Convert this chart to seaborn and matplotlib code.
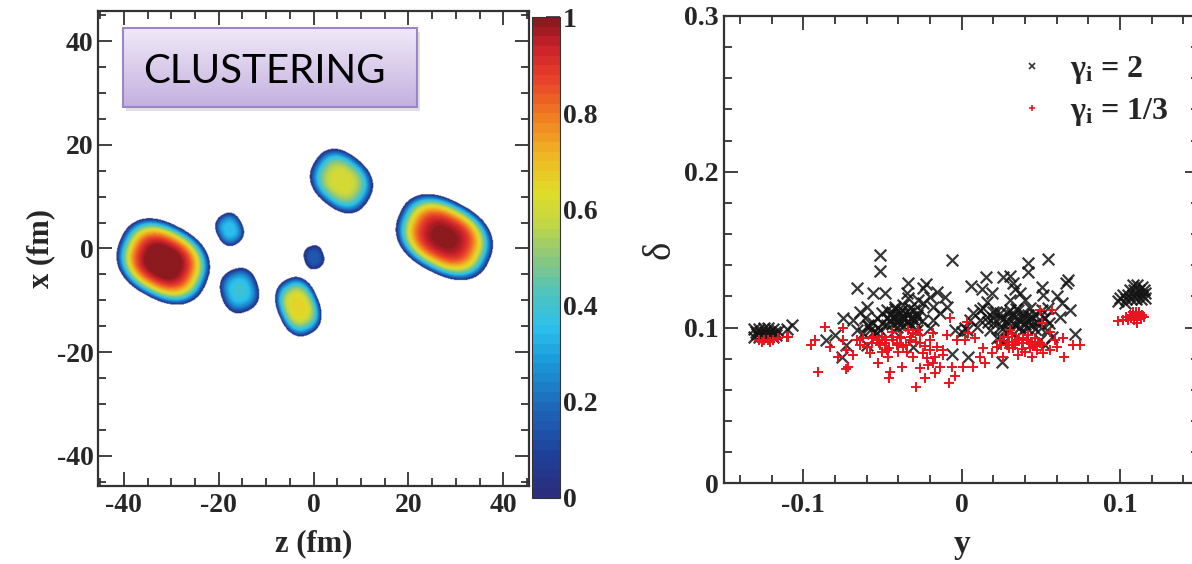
import numpy as np
import pandas as pd
import matplotlib
matplotlib.use("Agg")
import matplotlib.pyplot as plt
import seaborn as sns
from matplotlib.colors import LinearSegmentedColormap
from matplotlib.lines import Line2D
from matplotlib.patches import Rectangle
from matplotlib.ticker import MultipleLocator, FuncFormatter

# ---- left panel: density blobs (z, x in fm) ----
blob_z = [-31.8, 27.5, 5.8, -17.8, -15.7, 0.0, -3.3]
blob_x = [-2.6, 2.1, 12.9, 3.6, -8.2, -1.8, -11.3]
blob_a = [10.0, 10.5, 6.8, 3.2, 4.3, 2.3, 5.8]
blob_b = [7.4, 7.2, 5.4, 2.8, 4.0, 2.1, 4.4]
blob_tilt = [-25, -25, -35, -60, -70, -70, -65]
blob_peak = [1.05, 1.0, 0.62, 0.36, 0.39, 0.16, 0.66]

cbar_ticks = [0, 0.2, 0.4, 0.6, 0.8, 1]

# ---- right panel: gamma_i = 2 (black x) ----
g2_y = [-0.131, -0.128, -0.125, -0.122, -0.119, -0.117, -0.130, -0.127, -0.124, -0.121,
        -0.118, -0.131, -0.128, -0.125, -0.122, -0.119, -0.116, -0.129, -0.126, -0.123, -0.120,
        -0.1074, -0.1102,
        -0.0516, -0.0516, -0.0063, -0.0659, -0.0337, -0.0226, -0.0562, -0.0482, -0.0158, -0.0105,
        -0.0347, -0.0242, -0.0200, -0.0748, -0.0684, -0.0642, -0.0600, -0.0558, -0.0579, -0.0663,
        -0.0516, -0.0857, -0.0800, -0.0727, -0.0600, -0.0758, -0.0306, -0.0063, -0.0042, -0.0179,
        -0.0137, -0.0200, -0.0284, -0.0095, -0.0421, -0.0369, -0.0327, -0.0453, -0.0390, -0.0348,
        -0.0284, -0.0263, -0.0505, -0.0474, -0.0179, -0.0242, -0.0274, -0.0337,
        -0.0442, -0.0400, -0.0358, -0.0316, -0.0411, -0.0369, -0.0327, -0.0432, -0.0379, -0.0295,
        -0.0474, -0.0411, -0.0611, -0.0537, -0.0590, -0.0621, -0.0537,
        -0.045, -0.042, -0.039, -0.036, -0.033, -0.030, -0.040, -0.044, -0.037, -0.034,
        -0.031, -0.047, -0.050, -0.053, -0.028, -0.025, -0.038, -0.043, -0.056, -0.059,
        0.0421, 0.0421, 0.0547, 0.0154, 0.0263, 0.0305, 0.0057, 0.0126, 0.0189, 0.0326,
        0.0337, 0.0368, 0.0505, 0.0674, 0.0659, 0.0600, 0.0516, 0.0632, 0.0684, 0.0621,
        0.0716, 0.0042, 0.0252, 0.0158, 0.0305, 0.0400, 0.0116, 0.0200, 0.0284, 0.0358,
        0.0431, 0.0505, 0.0547, 0.0116, 0.0200, 0.0263, 0.0337, 0.0410, 0.0474, 0.0526,
        0.0031, 0.0095, 0.0179, 0.0242, 0.0305, 0.0368, 0.0442, 0.0537, 0.0495, 0.0568,
        0.0526, 0.0263, 0.0221, 0.0052, 0.0021, 0.0000, 0.0137, 0.0074, 0.0389, 0.0463,
        0.0326, 0.0242, 0.0168, 0.0305, 0.0242, 0.0379, 0.0442, 0.0284, 0.0410,
        0.020, 0.024, 0.028, 0.032, 0.036, 0.040, 0.044, 0.048, 0.052, 0.026,
        0.030, 0.034, 0.038, 0.042, 0.046, 0.050, 0.055, 0.016, 0.022, 0.034,
        0.100, 0.102, 0.105, 0.108, 0.111, 0.114, 0.116, 0.104, 0.107, 0.110,
        0.113, 0.116, 0.106, 0.109, 0.112, 0.115, 0.108, 0.111, 0.114, 0.099, 0.103]
g2_delta = [0.094, 0.094, 0.094, 0.094, 0.094, 0.095, 0.097, 0.097, 0.097, 0.097,
            0.097, 0.099, 0.099, 0.100, 0.100, 0.099, 0.098, 0.096, 0.096, 0.096, 0.096,
            0.1016, 0.0990,
            0.1466, 0.1365, 0.1434, 0.1256, 0.1284, 0.1280, 0.1220, 0.1224, 0.1231, 0.1198,
            0.1220, 0.1252, 0.1198, 0.1059, 0.1048, 0.1102, 0.1134, 0.1027, 0.0984, 0.0984,
            0.0984, 0.0920, 0.0952, 0.0888, 0.0888, 0.0813, 0.0877, 0.0830, 0.0984, 0.1048,
            0.1091, 0.0995, 0.0984, 0.1134, 0.1134, 0.1145, 0.1123, 0.1048, 0.1048, 0.1027,
            0.1070, 0.1113, 0.1091, 0.1113, 0.1134, 0.1155, 0.1177, 0.1188,
            0.1102, 0.1080, 0.1091, 0.1070, 0.1038, 0.1059, 0.1016, 0.1070, 0.1113, 0.1038,
            0.1016, 0.1006, 0.1059, 0.1059, 0.1016, 0.0963, 0.0963,
            0.108, 0.112, 0.110, 0.106, 0.109, 0.111, 0.104, 0.102, 0.101, 0.104,
            0.105, 0.106, 0.103, 0.100, 0.108, 0.104, 0.107, 0.098, 0.097, 0.101,
            0.1416, 0.1358, 0.1437, 0.1327, 0.1327, 0.1331, 0.1267, 0.1246, 0.1224, 0.1284,
            0.1246, 0.1220, 0.1263, 0.1305, 0.1284, 0.1203, 0.1209, 0.1155, 0.1113, 0.1070,
            0.0959, 0.0809, 0.0781, 0.1166, 0.1177, 0.1177, 0.1113, 0.1102, 0.1091, 0.1113,
            0.1123, 0.1113, 0.1123, 0.1048, 0.1059, 0.1053, 0.1070, 0.1048, 0.1038, 0.1059,
            0.0984, 0.1006, 0.0984, 0.0941, 0.0984, 0.1006, 0.1016, 0.0984, 0.0920, 0.0941,
            0.0888, 0.0898, 0.0931, 0.1048, 0.0995, 0.0974, 0.1123, 0.1091, 0.1091, 0.1080,
            0.1027, 0.1006, 0.1038, 0.1113, 0.1091, 0.1059, 0.1070, 0.1027, 0.0995,
            0.103, 0.106, 0.104, 0.108, 0.105, 0.102, 0.105, 0.103, 0.106, 0.100,
            0.098, 0.101, 0.098, 0.108, 0.099, 0.100, 0.103, 0.107, 0.110, 0.112,
            0.119, 0.121, 0.121, 0.121, 0.121, 0.121, 0.122, 0.118, 0.118, 0.118,
            0.118, 0.119, 0.124, 0.124, 0.124, 0.124, 0.127, 0.127, 0.126, 0.117, 0.116]

# ---- right panel: gamma_i = 1/3 (red +) ----
g13_y = [-0.128, -0.125, -0.122, -0.119, -0.116, -0.126, -0.121, -0.1095,
         -0.1102, -0.0863, -0.0948, -0.0927, -0.0905, -0.0832, -0.0779, -0.0748, -0.0727, -0.0733,
         -0.0716, -0.0684, -0.0642, -0.0621, -0.0600, -0.0579, -0.0569, -0.0537, -0.0527, -0.0505,
         -0.0484, -0.0474, -0.0463, -0.0453, -0.0457, -0.0432, -0.0411, -0.0390, -0.0369, -0.0379,
         -0.0348, -0.0327, -0.0306, -0.0288, -0.0263, -0.0242, -0.0232, -0.0221, -0.0200, -0.0179,
         -0.0179, -0.0169, -0.0158, -0.0137, -0.0116, -0.0078, -0.0074, -0.0095, -0.0063, -0.0042,
         -0.0032, -0.0200, -0.0274, -0.0337, -0.0442, -0.0516, -0.0558, -0.0663, -0.0748, -0.0505,
         -0.0400, -0.0306, -0.0211, -0.0169, -0.0263, -0.0120,
         -0.048, -0.044, -0.041, -0.038, -0.035, -0.032, -0.029, -0.046, -0.052, -0.056,
         -0.026, -0.023,
         0.0031, 0.0021, 0.0084, 0.0042, 0.0137, 0.0116, 0.0189, 0.0147, 0.0010, 0.0073,
         0.0263, 0.0305, 0.0295, 0.0284, 0.0242, 0.0221, 0.0326, 0.0358, 0.0379, 0.0410,
         0.0431, 0.0474, 0.0442, 0.0495, 0.0516, 0.0558, 0.0589, 0.0600, 0.0642, 0.0705,
         0.0648, 0.0495, 0.0568, 0.0505, 0.0558, 0.0337, 0.0400, 0.0463, 0.0316, 0.0421,
         0.0350, 0.0390, 0.0440, 0.0300, 0.0460, 0.0745,
         0.027, 0.030, 0.033, 0.036, 0.039, 0.042, 0.045, 0.048, 0.051, 0.025,
         0.038, 0.032,
         0.099, 0.102, 0.105, 0.107, 0.109, 0.111, 0.113, 0.115, 0.106, 0.108,
         0.110, 0.112, 0.114, 0.108, 0.110, 0.112, 0.104, 0.111]
g13_delta = [0.092, 0.092, 0.092, 0.092, 0.093, 0.091, 0.091, 0.0937,
             0.0937, 0.1001, 0.0888, 0.0920, 0.0716, 0.0877, 0.0813, 0.0920, 0.0856, 0.0731,
             0.0749, 0.0824, 0.0888, 0.0931, 0.0877, 0.0834, 0.0898, 0.0920, 0.0770, 0.0941,
             0.0898, 0.0856, 0.0813, 0.0716, 0.0674, 0.0920, 0.0888, 0.0941, 0.0877, 0.0749,
             0.0845, 0.0920, 0.0963, 0.0616, 0.0898, 0.0834, 0.0674, 0.0802, 0.0920, 0.0963,
             0.0770, 0.0706, 0.0877, 0.0749, 0.0824, 0.0642, 0.1059, 0.0952, 0.0745, 0.0689,
             0.0920, 0.0856, 0.0984, 0.0984, 0.0974, 0.0888, 0.0941, 0.0920, 0.0995, 0.0845,
             0.0845, 0.0813, 0.0760, 0.0813, 0.0738, 0.0856,
             0.092, 0.094, 0.090, 0.093, 0.089, 0.094, 0.091, 0.087, 0.090, 0.093,
             0.095, 0.088,
             0.1038, 0.0920, 0.0931, 0.0963, 0.0866, 0.0813, 0.0834, 0.0770, 0.0749, 0.0749,
             0.0813, 0.0984, 0.0941, 0.0888, 0.0920, 0.0877, 0.0866, 0.0824, 0.0898, 0.0920,
             0.0866, 0.0856, 0.0813, 0.0898, 0.0834, 0.0856, 0.0920, 0.0877, 0.0931, 0.0888,
             0.0813, 0.1113, 0.1113, 0.1027, 0.0974, 0.0888, 0.0845, 0.0888, 0.0909, 0.0952,
             0.0920, 0.0935, 0.0905, 0.0870, 0.0930, 0.0890,
             0.094, 0.091, 0.089, 0.093, 0.090, 0.092, 0.088, 0.091, 0.089, 0.089,
             0.086, 0.096,
             0.104, 0.105, 0.105, 0.106, 0.105, 0.105, 0.106, 0.107, 0.108, 0.108,
             0.109, 0.109, 0.108, 0.110, 0.110, 0.110, 0.107, 0.103]

# ---- style ----
sns.set_style("ticks")
plt.rcParams['font.family'] = ['Liberation Serif', 'DejaVu Serif']
plt.rcParams['font.weight'] = 'bold'
plt.rcParams['axes.unicode_minus'] = False
plt.rcParams['mathtext.fontset'] = 'custom'
plt.rcParams['mathtext.rm'] = 'Liberation Serif:bold'
plt.rcParams['mathtext.bf'] = 'Liberation Serif:bold'
plt.rcParams['mathtext.it'] = 'Liberation Serif:bold'
frame_col = '#333333'

root_cmap = LinearSegmentedColormap.from_list("root", [
    (0.00, '#2b2d7e'), (0.08, '#1f3f9a'), (0.18, '#1f66b8'), (0.28, '#1a9ad8'),
    (0.35, '#2cc0ee'), (0.42, '#4cc4c0'), (0.50, '#8cc87c'), (0.58, '#c8d840'),
    (0.64, '#e0dc28'), (0.72, '#f0b424'), (0.80, '#f07c22'), (0.88, '#e8402a'),
    (0.95, '#c8202a'), (1.00, '#8c1a1e')], N=50)
root_cmap.set_bad('white')

fig = plt.figure(figsize=(11.92, 5.64), dpi=100)
ax1 = fig.add_axes([0.0820, 0.1383, 0.3621, 0.8422])
cax = fig.add_axes([0.4461, 0.1176, 0.0237, 0.8518])
ax2 = fig.add_axes([0.6074, 0.1431, 0.3987, 0.8286])

# ---- density map ----
zlim = (-45.5, 45.5)
xlim = (-45.8, 45.8)
zz, xx = np.meshgrid(np.linspace(*zlim, 700), np.linspace(*xlim, 700))
dens = np.zeros_like(zz)
for z0, x0, a, b, t, p in zip(blob_z, blob_x, blob_a, blob_b, blob_tilt, blob_peak):
    th = np.deg2rad(t)
    u = (zz - z0) * np.cos(th) + (xx - x0) * np.sin(th)
    v = -(zz - z0) * np.sin(th) + (xx - x0) * np.cos(th)
    # slightly squarish outline, flat-topped profile
    r = (np.abs(u / a) ** 2.4 + np.abs(v / b) ** 2.4) ** (1 / 2.4)
    dens = np.maximum(dens, p * np.clip(1 - r ** 3, 0, None))
dens = np.clip(dens, 0, 1)
dens = np.ma.masked_where(dens <= 0.004, dens)

im = ax1.imshow(dens, origin='lower', extent=[*zlim, *xlim], cmap=root_cmap,
                vmin=0, vmax=1, aspect='auto', interpolation='bilinear')
ax1.xaxis.set_major_locator(MultipleLocator(20))
ax1.xaxis.set_minor_locator(MultipleLocator(5))
ax1.yaxis.set_major_locator(MultipleLocator(20))
ax1.yaxis.set_minor_locator(MultipleLocator(5))
ax1.set_xlabel('z (fm)', fontsize=22, fontweight='bold', labelpad=8)
ax1.set_ylabel('x (fm)', fontsize=22, fontweight='bold', labelpad=1)

# CLUSTERING label box
bx0, bx1, by0, by1 = -40.1, 21.8, 27.3, 42.6
ax1.add_patch(Rectangle((bx0 + 0.6, by0 - 0.8), bx1 - bx0, by1 - by0,
                        facecolor='#999999', alpha=0.3, edgecolor='none', zorder=3))
grad = np.linspace(0, 1, 100).reshape(-1, 1)
box_cmap = LinearSegmentedColormap.from_list("box", ['#f0eaf8', '#c4b0df'])
ax1.imshow(grad, extent=[bx0, bx1, by0, by1], cmap=box_cmap, aspect='auto',
           origin='upper', zorder=4)
ax1.add_patch(Rectangle((bx0, by0), bx1 - bx0, by1 - by0, facecolor='none',
                        edgecolor='#9c86c6', lw=1.5, zorder=5))
ax1.text(-35.9, 31.9, 'CLUSTERING', fontsize=29, family='Lato', fontweight='normal',
         color='black', ha='left', va='baseline', zorder=6)
ax1.set_xlim(zlim)
ax1.set_ylim(xlim)

cb = fig.colorbar(im, cax=cax, ticks=cbar_ticks)
cb.outline.set_edgecolor(frame_col)
cb.ax.yaxis.set_major_formatter(FuncFormatter(lambda v, p: f'{v:g}'))
cb.ax.tick_params(direction='in', length=10, width=1.2, color=frame_col,
                  labelsize=20, pad=2)

# ---- scatter ----
df2 = pd.DataFrame({'y': g2_y, 'delta': g2_delta})
df13 = pd.DataFrame({'y': g13_y, 'delta': g13_delta})
sns.scatterplot(data=df2, x='y', y='delta', marker='x', s=70, color='#141414',
                linewidth=1.6, alpha=0.85, ax=ax2, legend=False)
sns.scatterplot(data=df13, x='y', y='delta', marker='+', s=42, color='#e8141e',
                linewidth=1.4, ax=ax2, legend=False)
ax2.set_xlim(-0.15, 0.15)
ax2.set_ylim(0, 0.3)
ax2.xaxis.set_major_locator(MultipleLocator(0.1))
ax2.xaxis.set_minor_locator(MultipleLocator(0.02))
ax2.yaxis.set_major_locator(MultipleLocator(0.1))
ax2.yaxis.set_minor_locator(MultipleLocator(0.02))
fmt = FuncFormatter(lambda v, p: f'{v:g}')
ax2.xaxis.set_major_formatter(fmt)
ax2.yaxis.set_major_formatter(fmt)
ax2.set_xlabel('y', fontsize=24, fontweight='bold', labelpad=8)
ax2.set_ylabel('δ', fontsize=28, fontweight='normal', labelpad=4)

handles = [Line2D([], [], ls='none', marker='x', ms=5, mew=1.2, color='#333333'),
           Line2D([], [], ls='none', marker='+', ms=5, mew=1.2, color='#e8141e')]
labels = [r'γ$_{\mathbf{i}}$ = 2', r'γ$_{\mathbf{i}}$ = 1/3']
ax2.legend(handles, labels, loc='upper left', bbox_to_anchor=(0.828, 0.955),
           bbox_transform=fig.transFigure, frameon=False, handlelength=1.0,
           handletextpad=0.7, labelspacing=0.3, prop={'size': 23, 'weight': 'bold'})

for ax in (ax1, ax2):
    for sp in ax.spines.values():
        sp.set_visible(True)
        sp.set_color(frame_col)
        sp.set_linewidth(1.6)
    ax.tick_params(which='both', direction='in', top=True, right=True,
                   color=frame_col, width=1.3, labelsize=20)
    ax.tick_params(which='major', length=10)
    ax.tick_params(which='minor', length=5.5)
    for lab in ax.get_xticklabels() + ax.get_yticklabels():
        lab.set_fontweight('bold')
ax1.tick_params(axis='x', pad=5)
ax1.tick_params(axis='y', pad=3)
ax2.tick_params(axis='x', pad=7)
ax2.tick_params(axis='y', pad=4)

fig.savefig('out.png', dpi=100, facecolor='white')
